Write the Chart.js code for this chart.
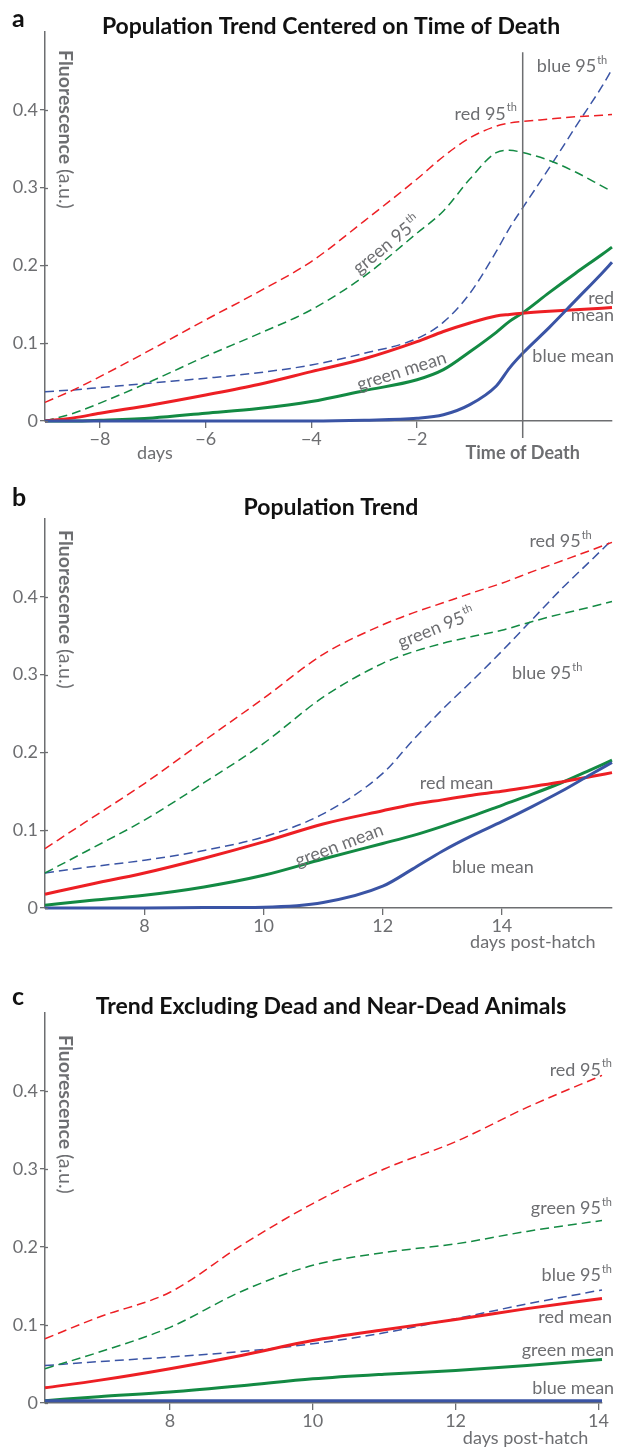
<!DOCTYPE html>
<html>
<head>
<meta charset="utf-8">
<script src="https://cdn.jsdelivr.net/npm/chart.js@4/dist/chart.umd.min.js"></script>
<style>
  html, body { margin: 0; padding: 0; background: #fff; }
  #page { position: relative; width: 620px; height: 1449px; }
  canvas { position: absolute; left: 0; }
</style>
</head>
<body>
<div id="page">
  <canvas id="chartA" width="620" height="470" style="top:0"></canvas>
  <canvas id="chartB" width="620" height="490" style="top:470px"></canvas>
  <canvas id="chartC" width="620" height="489" style="top:960px"></canvas>
</div>
<script>
// panel a: centered on time of death
const aDays = [-9.04, -8.5, -8, -7, -6, -5, -4, -3, -2, -1.5, -1, -0.5, -0.25, 0, 0.5, 1, 1.5, 1.69];
const aRedMean = [0, 0.004, 0.010, 0.021, 0.0335, 0.047, 0.0635, 0.080, 0.102, 0.115, 0.126, 0.135, 0.137, 0.1386, 0.141, 0.143, 0.145, 0.146];
const aGreenMean = [0, 0, 0.001, 0.004, 0.010, 0.016, 0.025, 0.039, 0.053, 0.066, 0.089, 0.114, 0.128, 0.139, 0.165, 0.19, 0.214, 0.2235];
const aBlueMean = [0, 0, 0, 0, 0, 0, 0, 0.001, 0.0035, 0.008, 0.021, 0.045, 0.068, 0.087, 0.12, 0.155, 0.19, 0.204];
const aRed95 = [0.024, 0.040, 0.057, 0.093, 0.13, 0.166, 0.205, 0.257, 0.311, 0.340, 0.364, 0.379, 0.383, 0.385, 0.388, 0.391, 0.393, 0.394];
const aGreen95 = [0, 0.010, 0.023, 0.052, 0.083, 0.112, 0.143, 0.186, 0.2415, 0.27, 0.311, 0.345, 0.348, 0.345, 0.335, 0.32, 0.302, 0.295];
const aBlue95 = [0.0377, 0.040, 0.043, 0.049, 0.055, 0.062, 0.072, 0.087, 0.106, 0.127, 0.164, 0.218, 0.248, 0.274, 0.325, 0.378, 0.43, 0.452];
const aTicks = [-8, -6, -4, -2];

// panel b: population trend
const bDays = [6.33, 7, 8, 9, 10, 11, 12, 12.5, 13, 13.5, 14, 14.5, 15, 15.5, 15.85];
const bRedMean = [0.0176, 0.029, 0.045, 0.064, 0.085, 0.108, 0.125, 0.133, 0.139, 0.145, 0.150, 0.156, 0.162, 0.169, 0.174];
const bGreenMean = [0.0035, 0.009, 0.0163, 0.027, 0.042, 0.063, 0.083, 0.093, 0.105, 0.118, 0.132, 0.146, 0.161, 0.178, 0.19];
const bBlueMean = [0, 0, 0, 0.0005, 0.001, 0.007, 0.028, 0.05, 0.073, 0.093, 0.111, 0.13, 0.15, 0.172, 0.187];
const bRed95 = [0.0764, 0.11, 0.16, 0.215, 0.2695, 0.326, 0.364, 0.379, 0.392, 0.405, 0.4175, 0.432, 0.446, 0.46, 0.47];
const bGreen95 = [0.045, 0.072, 0.113, 0.161, 0.2116, 0.271, 0.3145, 0.329, 0.34, 0.349, 0.357, 0.368, 0.378, 0.387, 0.394];
const bBlue95 = [0.045, 0.052, 0.0614, 0.074, 0.0914, 0.121, 0.173, 0.215, 0.255, 0.292, 0.33, 0.37, 0.41, 0.447, 0.473];
const bTicks = [8, 10, 12, 14];

// panel c: excluding dead and near-dead animals
const cDays = [6.25, 7, 8, 9, 10, 11, 12, 13, 14.05];
const cRedMean = [0.0195, 0.029, 0.044, 0.061, 0.080, 0.094, 0.107, 0.121, 0.134];
const cGreenMean = [0.003, 0.008, 0.014, 0.022, 0.031, 0.037, 0.0417, 0.048, 0.0558];
const cBlueMean = [0.003, 0.003, 0.003, 0.003, 0.003, 0.003, 0.003, 0.003, 0.003];
const cRed95 = [0.0824, 0.11, 0.142, 0.202, 0.2557, 0.30, 0.335, 0.379, 0.42];
const cGreen95 = [0.044, 0.065, 0.097, 0.143, 0.1765, 0.193, 0.204, 0.22, 0.234];
const cBlue95 = [0.048, 0.053, 0.059, 0.066, 0.076, 0.09, 0.108, 0.127, 0.145];
const cTicks = [8, 10, 12, 14];

const yTicks = [0, 0.1, 0.2, 0.3, 0.4];

const RED = "#ed1f24";
const GREEN = "#138a43";
const BLUE = "#3a54a5";
const GREY = "#6d6e71";
const FONT = "Lato, 'Open Sans', sans-serif";

function series(days, values, color, dashed) {
  return {
    data: days.map((d, i) => ({ x: d, y: values[i] })),
    borderColor: color,
    borderWidth: dashed ? 1.5 : 3,
    borderDash: dashed ? [9, 5] : [],
    pointRadius: 0,
    cubicInterpolationMode: "monotone",
    clip: false,
  };
}

function scales(xMin, xMax, xTicks, axisH) {
  return {
    x: {
      type: "linear",
      min: xMin,
      max: xMax,
      afterBuildTicks: (s) => { s.ticks = xTicks.map((v) => ({ value: v })); },
      afterFit: (s) => { s.height = axisH; },
      border: { color: GREY, width: 1.5 },
      grid: { drawOnChartArea: false, tickLength: 7, color: GREY, lineWidth: 1.3 },
      ticks: {
        color: GREY,
        autoSkip: false,
        maxRotation: 0,
        padding: 0,
        font: { family: FONT, size: 18 },
        callback: (v) => (v < 0 ? "\u2212" + Math.abs(v) : String(v)),
      },
    },
    y: {
      type: "linear",
      min: 0,
      max: 0.5,
      afterBuildTicks: (s) => { s.ticks = yTicks.map((v) => ({ value: v })); },
      afterFit: (s) => { s.width = 45; },
      border: { color: GREY, width: 1.5 },
      grid: { drawOnChartArea: false, tickLength: 5, color: GREY, lineWidth: 1.3 },
      ticks: {
        color: GREY,
        padding: 2,
        font: { family: FONT, size: 18 },
        callback: (v) => (v === 0 ? "0" : v.toFixed(1)),
      },
    },
  };
}

function drawLabel(ctx, L, px, py) {
  ctx.save();
  ctx.translate(px, py);
  if (L.rot) ctx.rotate((L.rot * Math.PI) / 180);
  const main = `${L.bold ? "bold " : ""}18px ${FONT}`;
  const sup = `11px ${FONT}`;
  ctx.font = main;
  const w1 = ctx.measureText(L.text).width;
  let w2 = 0;
  if (L.sup) {
    ctx.font = sup;
    w2 = ctx.measureText(L.sup).width + 1;
  }
  const w = w1 + w2;
  const x0 = L.align === "right" ? -w : L.align === "left" ? 0 : -w / 2;
  ctx.fillStyle = GREY;
  ctx.textAlign = "left";
  ctx.textBaseline = "middle";
  ctx.font = main;
  ctx.fillText(L.text, x0, 0);
  if (L.sup) {
    ctx.font = sup;
    ctx.fillText(L.sup, x0 + w1 + 1, -6);
  }
  ctx.restore();
}

// letters, titles, rotated y title, in-plot labels, time-of-death marker
const decor = {
  id: "decor",
  afterDatasetsDraw(chart, args, o) {
    const { ctx, chartArea, scales: { x, y } } = chart;
    ctx.save();
    ctx.fillStyle = "#111";
    ctx.textBaseline = "middle";
    ctx.textAlign = "left";
    ctx.font = `bold 25px ${FONT}`;
    ctx.fillText(o.letter, 12, o.letterY);
    ctx.textAlign = "center";
    ctx.font = `bold 23px ${FONT}`;
    ctx.fillText(o.title, 331, o.titleY);

    // y axis title reads top to bottom
    ctx.save();
    ctx.translate(chartArea.left + 20, o.yTitleTop);
    ctx.rotate(Math.PI / 2);
    ctx.fillStyle = GREY;
    ctx.textAlign = "left";
    ctx.font = `bold 19.5px ${FONT}`;
    ctx.fillText("Fluorescence", 0, 0);
    const w = ctx.measureText("Fluorescence ").width;
    ctx.font = `19.5px ${FONT}`;
    ctx.fillText("(a.u.)", w, 0);
    ctx.restore();

    // small stubs so the y ticks cross the axis
    ctx.strokeStyle = GREY;
    ctx.lineWidth = 1.3;
    yTicks.forEach((v) => {
      const py = Math.round(y.getPixelForValue(v)) + 0.5;
      ctx.beginPath();
      ctx.moveTo(chartArea.left, py);
      ctx.lineTo(chartArea.left + 3, py);
      ctx.stroke();
    });

    if (o.marker !== undefined) {
      const px = x.getPixelForValue(o.marker);
      ctx.strokeStyle = GREY;
      ctx.lineWidth = 1.5;
      ctx.beginPath();
      ctx.moveTo(px, y.getPixelForValue(o.markerTop));
      ctx.lineTo(px, chartArea.bottom + 17);
      ctx.stroke();
    }

    o.labels.forEach((L) => {
      const px = x.getPixelForValue(L.x);
      const py = L.below !== undefined ? chartArea.bottom + L.below : y.getPixelForValue(L.y);
      drawLabel(ctx, L, px, py);
    });
    ctx.restore();
  },
};

function makePanel(id, days, sets, xMin, xMax, xTicks, pad, axisH, decorOpts) {
  const [rm, gm, bm, r95, g95, b95] = sets;
  new Chart(document.getElementById(id), {
    type: "line",
    data: {
      datasets: [
        series(days, bm, BLUE, false),
        series(days, rm, RED, false),
        series(days, gm, GREEN, false),
        series(days, r95, RED, true),
        series(days, g95, GREEN, true),
        series(days, b95, BLUE, true),
      ],
    },
    options: {
      responsive: false,
      animation: false,
      layout: { autoPadding: false, padding: pad },
      plugins: { legend: { display: false }, tooltip: { enabled: false }, decor: decorOpts },
      scales: scales(xMin, xMax, xTicks, axisH),
    },
    plugins: [decor],
  });
}

makePanel("chartA", aDays, [aRedMean, aGreenMean, aBlueMean, aRed95, aGreen95, aBlue95],
  -9.04, 1.69, aTicks, { top: 32, right: 8, left: 0, bottom: 0 }, 49, {
    letter: "a", letterY: 19, title: "Population Trend Centered on Time of Death", titleY: 27,
    yTitleTop: 50, marker: 0, markerTop: 0.474,
    labels: [
      { text: "blue 95", sup: "th", x: 1.6, y: 0.456, align: "right" },
      { text: "red 95", sup: "th", x: -0.11, y: 0.395, align: "right" },
      { text: "green 95", sup: "th", x: -2.57, y: 0.2265, rot: -39 },
      { text: "green mean", x: -2.29, y: 0.064, rot: -17.5 },
      { text: "red", x: 1.73, y: 0.158, align: "right" },
      { text: "mean", x: 1.73, y: 0.136, align: "right" },
      { text: "blue mean", x: 1.73, y: 0.0828, align: "right" },
      { text: "days", x: -6.96, below: 31.7 },
      { text: "Time of Death", x: 0, below: 31.7, bold: true },
    ],
  });

makePanel("chartB", bDays, [bRedMean, bGreenMean, bBlueMean, bRed95, bGreen95, bBlue95],
  6.33, 15.85, bTicks, { top: 49, right: 8, left: 0, bottom: 0 }, 52, {
    letter: "b", letterY: 28, title: "Population Trend", titleY: 38,
    yTitleTop: 60,
    labels: [
      { text: "red 95", sup: "th", x: 15.51, y: 0.471, align: "right" },
      { text: "green 95", sup: "th", x: 12.9, y: 0.36, rot: -22 },
      { text: "blue 95", sup: "th", x: 14.17, y: 0.3017, align: "left" },
      { text: "red mean", x: 13.24, y: 0.16 },
      { text: "green mean", x: 11.27, y: 0.0805, rot: -20.6 },
      { text: "blue mean", x: 13.85, y: 0.0528 },
      { text: "days post-hatch", x: 14.52, below: 34 },
    ],
  });

makePanel("chartC", cDays, [cRedMean, cGreenMean, cBlueMean, cRed95, cGreen95, cBlue95],
  6.25, 14.05, cTicks, { top: 53, right: 18, left: 0, bottom: 0 }, 46, {
    letter: "c", letterY: 37, title: "Trend Excluding Dead and Near-Dead Animals", titleY: 47,
    yTitleTop: 75,
    labels: [
      { text: "red 95", sup: "th", x: 14.19, y: 0.427, align: "right" },
      { text: "green 95", sup: "th", x: 14.19, y: 0.25, align: "right" },
      { text: "blue 95", sup: "th", x: 14.19, y: 0.164, align: "right" },
      { text: "red mean", x: 14.19, y: 0.11, align: "right" },
      { text: "green mean", x: 14.22, y: 0.068, align: "right" },
      { text: "blue mean", x: 14.22, y: 0.019, align: "right" },
      { text: "days post-hatch", x: 12.98, below: 35.5 },
    ],
  });
</script>
</body>
</html>
